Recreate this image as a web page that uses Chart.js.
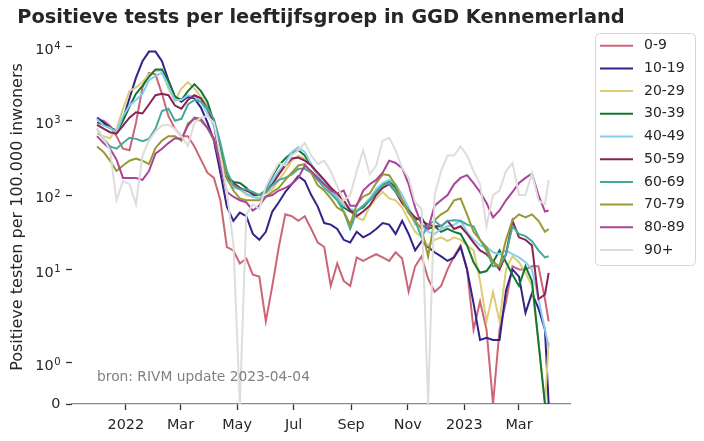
<!DOCTYPE html>
<html>
<head>
<meta charset="utf-8">
<script src="https://cdn.jsdelivr.net/npm/chart.js@4.4.1/dist/chart.umd.min.js"></script>
<style>
  html, body { margin: 0; padding: 0; background: #fff; }
  #wrap { width: 704px; height: 441px; position: relative; }
</style>
</head>
<body>
<div id="wrap"><canvas id="grafiek"></canvas></div>
<script>
// Weekdata, positieve tests per 100.000 inwoners
const datums = [
    '2021-12-01', '2021-12-08', '2021-12-15', '2021-12-22', '2021-12-29',
    '2022-01-05', '2022-01-12', '2022-01-19', '2022-01-26', '2022-02-02',
    '2022-02-09', '2022-02-16', '2022-02-23', '2022-03-02', '2022-03-09',
    '2022-03-16', '2022-03-23', '2022-03-30', '2022-04-06', '2022-04-13',
    '2022-04-20', '2022-04-27', '2022-05-04', '2022-05-11', '2022-05-18',
    '2022-05-25', '2022-06-01', '2022-06-08', '2022-06-15', '2022-06-22',
    '2022-06-29', '2022-07-06', '2022-07-13', '2022-07-20', '2022-07-27',
    '2022-08-03', '2022-08-10', '2022-08-17', '2022-08-24', '2022-08-31',
    '2022-09-07', '2022-09-14', '2022-09-21', '2022-09-28', '2022-10-05',
    '2022-10-12', '2022-10-19', '2022-10-26', '2022-11-02', '2022-11-09',
    '2022-11-16', '2022-11-23', '2022-11-30', '2022-12-07', '2022-12-14',
    '2022-12-21', '2022-12-28', '2023-01-04', '2023-01-11', '2023-01-18',
    '2023-01-25', '2023-02-01', '2023-02-08', '2023-02-15', '2023-02-22',
    '2023-03-01', '2023-03-08', '2023-03-15', '2023-03-22', '2023-03-29',
    '2023-04-02'
];

const groepen = ['0-9', '10-19', '20-29', '30-39', '40-49', '50-59', '60-69', '70-79', '80-89', '90+'];
const kleuren = ['#CC6677', '#332288', '#DDCC77', '#117733', '#88CCEE', '#882255', '#44AA99', '#999933', '#AA4499', '#DDDDDD'];

const leeftijd0_9 = [1030, 1000, 860, 620, 420, 400, 940, 2800, 4400, 4200, 2300, 1150, 780, 620, 620, 450, 300, 200, 170, 85,
    20, 18, 12, 14, 8.5, 8, 2, 6, 20, 55, 52, 45, 52, 35, 23, 20, 6, 12, 7, 6,
    14.5, 13, 14.5, 16, 14.5, 13, 17, 14, 5, 11, 15, 7.5, 5, 6, 10, 15, 21, 10, 1.8, 3.7,
    1.8, 0, 1.8, 3.7, 11, 10, 10, 11, 11, 4, 2];
const leeftijd10_19 = [1100, 950, 810, 730, 1060, 2000, 3800, 6300, 8500, 8500, 6300, 3500, 2100, 1800, 2100, 2000, 1500, 950, 540, 200,
    70, 45, 58, 52, 30, 25, 32, 60, 80, 110, 140, 180, 155, 100, 70, 42, 40, 35, 25, 23,
    32, 27, 30, 35, 42, 40, 30, 45, 30, 18, 24, 20, 17, 15, 13, 14.5, 20, 10, 3.5, 1.55,
    1.6, 1.55, 1.55, 5.2, 10, 8, 2.6, 4.8, 3, 1.8, 0];
const leeftijd20_29 = [670, 620, 580, 780, 1450, 2500, 2800, 3300, 4200, 4700, 4700, 2700, 1850, 2700, 3300, 2700, 2100, 1600, 860, 400,
    210, 130, 120, 100, 95, 100, 105, 120, 160, 210, 290, 340, 310, 250, 190, 160, 130, 100, 75, 60,
    50, 46, 70, 90, 110, 90, 85, 68, 46, 32, 27, 21, 25, 27, 24, 27, 25, 21, 18, 7,
    2, 5, 2, 10, 15, 12.5, 9, 6, 1.5, 0, 1.5];
const leeftijd30_39 = [950, 880, 800, 700, 1000, 1550, 2300, 2950, 3900, 4900, 4900, 3400, 2100, 1900, 2500, 3100, 2500, 1800, 950, 400,
    180, 150, 145, 125, 100, 100, 115, 180, 250, 310, 370, 400, 340, 250, 190, 140, 120, 90, 68, 60,
    62, 68, 85, 110, 140, 155, 125, 85, 62, 46, 50, 35, 38, 32, 35, 32, 30, 21, 12.5, 9,
    9.5, 12.5, 18, 12.5, 8.5, 6, 11, 7, 1.5, 0, 0];
const leeftijd40_49 = [1060, 860, 800, 700, 1150, 1600, 1900, 2300, 3500, 4000, 4400, 2900, 1900, 1900, 2200, 2100, 1800, 1250, 860, 290,
    160, 125, 120, 105, 95, 90, 110, 160, 210, 270, 380, 440, 380, 260, 190, 145, 120, 90, 72, 65,
    62, 72, 90, 120, 145, 160, 140, 100, 68, 40, 38, 32, 30, 35, 38, 40, 45, 32, 25, 21,
    20, 17, 16, 18, 16, 14.5, 12.5, 10, 4, 1.8, 1.4];
const leeftijd50_59 = [880, 780, 700, 670, 860, 1100, 1300, 1250, 1650, 2200, 2300, 2200, 1600, 1450, 1900, 2200, 2000, 1450, 940, 270,
    170, 145, 125, 115, 105, 100, 110, 140, 190, 250, 310, 320, 290, 250, 200, 160, 125, 105, 85, 62,
    52, 60, 72, 100, 125, 140, 110, 78, 62, 50, 45, 40, 38, 38, 45, 35, 38, 30, 23, 18,
    16, 13, 10, 16, 45, 27, 25, 21, 4, 4.6, 9];
const leeftijd60_69 = [780, 570, 450, 420, 500, 590, 570, 530, 570, 780, 1350, 1450, 1000, 1060, 1650, 1900, 1800, 1450, 1060, 500,
    210, 135, 120, 120, 110, 100, 110, 135, 160, 170, 190, 225, 225, 200, 160, 125, 105, 85, 60, 35,
    60, 72, 85, 110, 135, 145, 110, 85, 60, 45, 27, 40, 45, 38, 45, 46, 45, 40, 38, 25,
    18, 11, 11, 16, 38, 30, 28, 24, 18, 14.5, 15];
const leeftijd70_79 = [450, 380, 290, 210, 250, 290, 310, 290, 260, 430, 540, 620, 620, 540, 920, 1060, 1000, 800, 540, 350,
    170, 115, 90, 85, 85, 85, 95, 110, 125, 160, 200, 250, 260, 200, 135, 115, 90, 68, 60, 40,
    75, 95, 105, 145, 190, 185, 135, 85, 57, 45, 35, 15, 46, 55, 62, 85, 90, 55, 32, 25,
    20, 12.5, 11, 25, 46, 55, 50, 55, 45, 32, 35];
const leeftijd80_89 = [620, 500, 420, 300, 170, 170, 170, 160, 210, 360, 420, 500, 580, 570, 860, 1100, 1060, 800, 580, 250,
    110, 95, 85, 80, 62, 72, 95, 100, 115, 125, 140, 170, 250, 210, 170, 140, 115, 105, 115, 72,
    72, 115, 140, 160, 200, 290, 270, 230, 140, 68, 40, 35, 72, 85, 100, 140, 170, 185, 145, 110,
    78, 50, 62, 85, 110, 145, 170, 195, 100, 60, 62];
const leeftijd90plus = [780, 580, 400, 85, 155, 140, 75, 340, 540, 720, 860, 880, 780, 620, 460, 940, 1100, 1150, 940, 340,
    110, 22, 0, 55, 75, 65, 130, 190, 270, 250, 340, 400, 500, 340, 260, 290, 210, 130, 85, 100,
    210, 400, 190, 250, 540, 590, 400, 230, 170, 80, 65, 0, 100, 210, 340, 340, 450, 340, 210, 140,
    38, 100, 115, 210, 270, 100, 100, 200, 85, 75, 160];

const reeksen = [leeftijd0_9, leeftijd10_19, leeftijd20_29, leeftijd30_39, leeftijd40_49,
    leeftijd50_59, leeftijd60_69, leeftijd70_79, leeftijd80_89, leeftijd90plus];

// As-ticks
const xTickDatums = ['2022-01-01', '2022-03-01', '2022-05-01', '2022-07-01', '2022-09-01', '2022-11-01', '2023-01-01', '2023-03-01'];
const xTickLabels = ['2022', 'Mar', 'May', 'Jul', 'Sep', 'Nov', '2023', 'Mar'];
const yTickWaarden = [0, 1, 10, 100, 1000, 10000];
const yTickExponenten = [null, '0', '1', '2', '3', '4'];

// Dagen sinds 1 januari 2022
const dagNummer = (s) => {
    const [j, m, d] = s.split('-').map(Number);
    return (Date.UTC(j, m - 1, d) - Date.UTC(2022, 0, 1)) / 86400000;
};

// Symlog-transformatie (linthresh 2, linscale 1), in decaden
const LINTHRESH = 2;
const LINSCALE = 1 / (1 - 1 / 10);
const symlog = (v) => v <= LINTHRESH ? v / LINTHRESH * LINSCALE : LINSCALE + Math.log10(v / LINTHRESH);

const tekstKleur = '#262626';
const lettertype = "'DejaVu Sans', sans-serif";

// Titel, bron, y-labels met exponent en legenda zelf tekenen
const extraTekst = {
    id: 'extraTekst',
    afterDraw(chart) {
        const ctx = chart.ctx;
        const area = chart.chartArea;
        const yAs = chart.scales.y;
        ctx.save();

        ctx.fillStyle = tekstKleur;
        ctx.font = "bold 19.4px " + lettertype;
        ctx.textAlign = 'center';
        ctx.textBaseline = 'middle';
        ctx.fillText('Positieve tests per leeftijfsgroep in GGD Kennemerland', (area.left + area.right) / 2, 18);

        // y tick labels: 10 met superscript
        const rechts = 60.5;
        yTickWaarden.forEach((v, i) => {
            const y = yAs.getPixelForValue(symlog(v));
            ctx.fillStyle = tekstKleur;
            ctx.textAlign = 'right';
            if (yTickExponenten[i] === null) {
                ctx.font = "14.4px " + lettertype;
                ctx.textBaseline = 'middle';
                ctx.fillText('0', rechts, y);
                return;
            }
            ctx.textBaseline = 'alphabetic';
            ctx.font = "10px " + lettertype;
            const expBreedte = ctx.measureText(yTickExponenten[i]).width;
            ctx.fillText(yTickExponenten[i], rechts, y + 2.2);
            ctx.font = "14.4px " + lettertype;
            ctx.fillText('10', rechts - expBreedte - 0.5, y + 7.2);
        });

        ctx.fillStyle = '#808080';
        ctx.font = "13.8px " + lettertype;
        ctx.textAlign = 'left';
        ctx.textBaseline = 'middle';
        ctx.fillText('bron: RIVM update 2023-04-04', 97, 377);

        // legenda
        const bx = 595.5, by = 33.5, bw = 100, bh = 232, r = 4;
        ctx.beginPath();
        ctx.moveTo(bx + r, by);
        ctx.arcTo(bx + bw, by, bx + bw, by + bh, r);
        ctx.arcTo(bx + bw, by + bh, bx, by + bh, r);
        ctx.arcTo(bx, by + bh, bx, by, r);
        ctx.arcTo(bx, by, bx + bw, by, r);
        ctx.closePath();
        ctx.fillStyle = 'rgba(255,255,255,0.8)';
        ctx.fill();
        ctx.strokeStyle = '#d6d6d6';
        ctx.lineWidth = 1;
        ctx.stroke();

        ctx.font = "14px " + lettertype;
        ctx.textBaseline = 'middle';
        groepen.forEach((g, i) => {
            const y = 45.7 + i * 22.7;
            ctx.strokeStyle = kleuren[i];
            ctx.lineWidth = 2;
            ctx.beginPath();
            ctx.moveTo(600, y);
            ctx.lineTo(633, y);
            ctx.stroke();
            ctx.fillStyle = tekstKleur;
            ctx.fillText(g, 644, y);
        });
        ctx.restore();
    }
};

const xDagen = datums.map(dagNummer);

const datasets = reeksen.map((reeks, i) => ({
    label: groepen[i],
    data: reeks.map((v, j) => ({ x: xDagen[j], y: symlog(v) })),
    borderColor: kleuren[i],
    borderWidth: 2,
    pointRadius: 0,
    tension: 0,
    fill: false,
    order: groepen.length - i
}));

const contexto = document.getElementById('grafiek').getContext('2d');
new Chart(contexto, {
    type: 'line',
    data: { datasets: datasets },
    options: {
        responsive: true,
        maintainAspectRatio: false,
        animation: false,
        events: [],
        layout: { padding: { top: 30, right: 134, bottom: 0, left: 0 } },
        plugins: {
            legend: { display: false },
            tooltip: { enabled: false },
            title: { display: false }
        },
        scales: {
            x: {
                type: 'linear',
                min: dagNummer('2021-11-04'),
                max: dagNummer('2023-04-25'),
                afterFit: (scale) => { scale.height = 37; },
                afterBuildTicks: (scale) => {
                    scale.ticks = xTickDatums.map(d => ({ value: dagNummer(d) }));
                },
                grid: {
                    drawOnChartArea: false,
                    drawTicks: true,
                    tickLength: 6,
                    tickWidth: 1.3,
                    tickColor: '#333333'
                },
                border: { display: true, color: '#8a8a8a', width: 1.3 },
                ticks: {
                    autoSkip: false,
                    maxRotation: 0,
                    padding: 6.5,
                    color: tekstKleur,
                    font: { family: lettertype, size: 14.4 },
                    callback: (value, index) => xTickLabels[index]
                }
            },
            y: {
                type: 'linear',
                min: 0,
                max: 5.03,
                afterFit: (scale) => { scale.width = 72; },
                afterBuildTicks: (scale) => {
                    scale.ticks = yTickWaarden.map(v => ({ value: symlog(v) }));
                },
                grid: {
                    drawOnChartArea: false,
                    drawTicks: true,
                    tickLength: 6,
                    tickWidth: 1.3,
                    tickColor: '#333333'
                },
                border: { display: false },
                title: {
                    display: true,
                    text: 'Positieve testen per 100.000 inwoners',
                    color: tekstKleur,
                    font: { family: lettertype, size: 16 },
                    padding: { top: 8, bottom: 0 }
                },
                ticks: {
                    autoSkip: false,
                    padding: 4,
                    callback: () => ''
                }
            }
        }
    },
    plugins: [extraTekst]
});
</script>
</body>
</html>
